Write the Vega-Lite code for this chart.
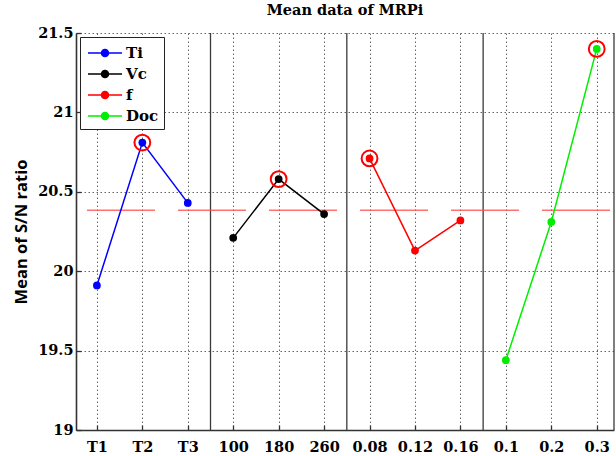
{
  "$schema": "https://vega.github.io/schema/vega-lite/v6.json",
  "width": 538,
  "height": 397,
  "autosize": {"type": "none"},
  "padding": {"left": 76, "top": 33, "right": 2, "bottom": 26},
  "background": "white",
  "title": {"text": "Mean data of MRPi", "font": "DejaVu Serif", "fontSize": 14.5, "fontWeight": "bold", "anchor": "middle", "offset": 7, "color": "black"},
  "config": {"view": {"stroke": null}},
  "datasets": {
    "means": [
      {"factor": "Ti", "level": "T1", "pos": 1, "value": 19.91},
      {"factor": "Ti", "level": "T2", "pos": 2, "value": 20.81},
      {"factor": "Ti", "level": "T3", "pos": 3, "value": 20.43},
      {"factor": "Vc", "level": "100", "pos": 4, "value": 20.21},
      {"factor": "Vc", "level": "180", "pos": 5, "value": 20.58},
      {"factor": "Vc", "level": "260", "pos": 6, "value": 20.36},
      {"factor": "f", "level": "0.08", "pos": 7, "value": 20.71},
      {"factor": "f", "level": "0.12", "pos": 8, "value": 20.13},
      {"factor": "f", "level": "0.16", "pos": 9, "value": 20.32},
      {"factor": "Doc", "level": "0.1", "pos": 10, "value": 19.44},
      {"factor": "Doc", "level": "0.2", "pos": 11, "value": 20.31},
      {"factor": "Doc", "level": "0.3", "pos": 12, "value": 21.40}
    ],
    "bounds": [{"b": 3.5, "w": "sep"}, {"b": 6.5, "w": "sep"}, {"b": 9.5, "w": "sep"}, {"b": 12.38, "w": "edge"}]
  },
  "layer": [
    {
      "data": {"name": "bounds"},
      "mark": {"type": "rule", "color": "#3a3a3a", "strokeWidth": 1.3},
      "encoding": {
        "x": {"field": "b", "type": "quantitative",
          "scale": {"domain": [0.54, 12.38], "nice": false, "zero": false},
          "axis": {"values": [1,2,3,4,5,6,7,8,9,10,11,12],
            "labelExpr": "['','T1','T2','T3','100','180','260','0.08','0.12','0.16','0.1','0.2','0.3'][datum.value]",
            "title": null, "grid": true, "gridColor": "#666", "gridDash": [1.5, 2.5], "gridWidth": 1,
            "domainColor": "#333", "domainWidth": 1.6, "tickColor": "#333", "tickSize": -5, "tickWidth": 1.3,
            "labelPadding": 15, "labelFont": "DejaVu Serif", "labelFontSize": 14.5, "labelFontWeight": "bold", "labelColor": "black", "labelFlush": false}
        }
      }
    },
    {
      "data": {"name": "means"},
      "transform": [{"aggregate": [{"op": "mean", "field": "value", "as": "grand"}]}],
      "mark": {"type": "rule", "color": "#ff4d4d", "opacity": 0.8, "strokeWidth": 1.5, "strokeDash": [68, 23], "strokeDashOffset": 87},
      "encoding": {
        "y": {"field": "grand", "type": "quantitative",
          "scale": {"domain": [19, 21.5], "nice": false, "zero": false},
          "axis": {"values": [19, 19.5, 20, 20.5, 21, 21.5], "format": "~g", "title": "Mean of S/N ratio",
            "titleFont": "Open Sans", "titleFontSize": 16.5, "titleFontWeight": "bold", "titleColor": "black", "titlePadding": 8,
            "grid": true, "gridColor": "#666", "gridDash": [1.5, 2.5], "gridWidth": 1,
            "domainColor": "#333", "domainWidth": 1.6, "tickColor": "#333", "tickSize": -5, "tickWidth": 1.3,
            "labelPadding": 8, "labelFont": "DejaVu Serif", "labelFontSize": 14.5, "labelFontWeight": "bold", "labelColor": "black"}
        }
      }
    },
    {
      "data": {"name": "means"},
      "mark": {"type": "line", "strokeWidth": 1.5},
      "encoding": {
        "x": {"field": "pos", "type": "quantitative"},
        "y": {"field": "value", "type": "quantitative"},
        "detail": {"field": "factor"},
        "color": {"field": "factor", "type": "nominal",
          "scale": {"domain": ["Ti", "Vc", "f", "Doc"], "range": ["#0000ff", "#000000", "#ff0000", "#00ee00"]}}
      }
    },
    {
      "data": {"name": "means"},
      "mark": {"type": "circle", "size": 60, "opacity": 1},
      "encoding": {
        "x": {"field": "pos", "type": "quantitative"},
        "y": {"field": "value", "type": "quantitative"},
        "color": {"field": "factor", "type": "nominal",
          "legend": {"orient": "none", "legendX": 4, "legendY": 4, "title": null,
            "strokeColor": "#222", "fillColor": "white", "padding": 5,
            "labelFont": "DejaVu Serif", "labelFontSize": 15, "labelFontWeight": "bold", "labelColor": "black",
            "symbolType": "M-1.7,0H1.7M0.35,0A0.35,0.35,0,1,1,-0.35,0A0.35,0.35,0,1,1,0.35,0Z",
            "symbolSize": 400, "symbolStrokeWidth": 1.5, "symbolOpacity": 1, "symbolOffset": 9, "rowPadding": 2, "labelOffset": 10,
            "encode": {"symbols": {"update": {"stroke": {"scale": "color", "field": "value"}, "fill": {"scale": "color", "field": "value"}, "strokeWidth": {"value": 1.5}, "opacity": {"value": 1}}}}}
        }
      }
    },
    {
      "data": {"name": "means"},
      "transform": [
        {"joinaggregate": [{"op": "max", "field": "value", "as": "top"}], "groupby": ["factor"]},
        {"filter": "datum.value == datum.top"}
      ],
      "mark": {"type": "point", "shape": "circle", "size": 250, "filled": false, "color": "#ff0000", "strokeWidth": 2, "opacity": 1},
      "encoding": {
        "x": {"field": "pos", "type": "quantitative"},
        "y": {"field": "value", "type": "quantitative"}
      }
    }
  ]
}
